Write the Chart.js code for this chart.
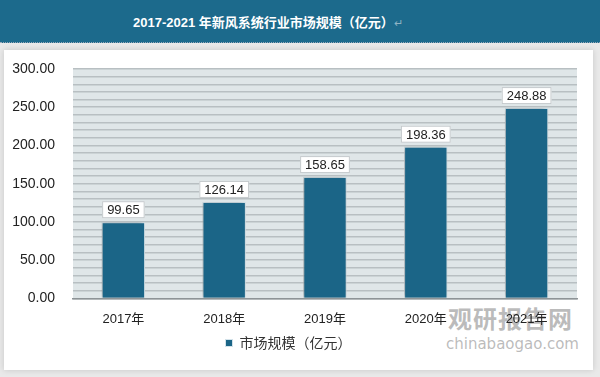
<!DOCTYPE html>
<html>
<head>
<meta charset="utf-8">
<script src="https://cdn.jsdelivr.net/npm/chart.js@4.4.0/dist/chart.umd.min.js"></script>
<style>
  body{margin:0;width:600px;height:377px;background:#e9e9e9;position:relative;overflow:hidden;font-family:"Noto Sans CJK SC","Noto Sans",sans-serif;}
  #titleBar{position:absolute;left:0;top:0;width:600px;height:42px;background:#1c6a8c;border-bottom:1px dotted #9ab;}
  #titleText{position:absolute;left:133px;top:12px;color:#fff;font-weight:bold;font-size:13px;white-space:nowrap;font-family:"Liberation Sans","Noto Sans CJK SC",sans-serif;}
  #titleText span{color:#8fb3c4;font-weight:normal;font-size:11px;}
  #panel{position:absolute;left:4px;top:50px;width:589px;height:320px;background:#fff;box-shadow:0 0 6px rgba(0,0,0,0.15);}
  #wm1{position:absolute;left:448px;top:300px;font-size:24px;font-weight:bold;color:rgba(120,120,120,0.5);letter-spacing:1px;}
  #wm2{position:absolute;left:446px;top:335px;font-size:15px;color:rgba(120,120,120,0.5);font-family:"DejaVu Sans",sans-serif;}
  canvas{position:absolute;left:0;top:0;}
</style>
</head>
<body>
<div id="titleBar"><div id="titleText">2017-2021 年新风系统行业市场规模（亿元）<span>↵</span></div></div>
<div id="panel"></div>
<div id="wm1">观研报告网</div>
<div id="wm2">chinabaogao.com</div>
<canvas id="myChart" width="600" height="377"></canvas>
<script>
'use strict';
let years=['2017年','2018年','2019年','2020年','2021年'];
let marketSize=[99.65,126.14,158.65,198.36,248.88];
let seriesName='市场规模（亿元）';

let ctx=document.getElementById('myChart').getContext('2d');

// grey plot background
let plotBg={
  id:'plotBg',
  beforeDraw(chart){
    let a=chart.chartArea;
    let c=chart.ctx;
    c.save();
    c.fillStyle='#dfe6e8';
    c.fillRect(a.left,a.top,a.right-a.left,a.bottom-a.top);
    c.restore();
  }
};

// soft shadow behind bars
let barShadow={
  id:'barShadow',
  beforeDatasetsDraw(chart){
    chart.ctx.save();
    chart.ctx.shadowColor='rgba(0,0,0,0.3)';
    chart.ctx.shadowBlur=5;
    chart.ctx.shadowOffsetX=-2;
  },
  afterDatasetsDraw(chart){
    chart.ctx.restore();
  }
};

// value boxes above bars
let valueBoxes={
  id:'valueBoxes',
  afterDatasetsDraw(chart){
    let c=chart.ctx;
    let meta=chart.getDatasetMeta(0);
    c.save();
    c.font='13px "Liberation Sans", sans-serif';
    c.textAlign='center';
    c.textBaseline='middle';
    meta.data.forEach(function(bar,i){
      let txt=marketSize[i].toFixed(2);
      let w=c.measureText(txt).width+10;
      let h=17;
      let x=bar.x-w/2;
      let y=bar.y-h-4;
      c.fillStyle='#fff';
      c.fillRect(x,y,w,h);
      c.strokeStyle='#c4c9cc';
      c.lineWidth=1;
      c.strokeRect(x+0.5,y+0.5,w-1,h-1);
      c.fillStyle='#222';
      c.fillText(txt,bar.x,y+h/2+1);
    });
    c.restore();
  }
};

new Chart(ctx,{
  type:'bar',
  data:{
    labels:years,
    datasets:[{
      label:seriesName,
      data:marketSize,
      backgroundColor:'#1b6587',
      borderColor:'#d4e3ea',
      borderWidth:1,
      barPercentage:0.43,
      categoryPercentage:1
    }]
  },
  options:{
    responsive:false,
    animation:false,
    layout:{padding:{left:0,right:23,top:69,bottom:17}},
    plugins:{
      legend:{
        position:'bottom',
        labels:{
          boxWidth:7,boxHeight:7,
          color:'#333',
          font:{size:14,family:'"Noto Sans CJK SC", sans-serif'},
          padding:4
        }
      },
      tooltip:{enabled:false}
    },
    scales:{
      x:{
        grid:{display:false},
        border:{color:'#8e9497',width:1.5},
        ticks:{color:'#222',font:{size:13,family:'"Liberation Sans","Noto Sans CJK SC",sans-serif'},padding:5}
      },
      y:{
        min:0,max:300,
        border:{display:false},
        grid:{color:'#b8bfc2',lineWidth:1.5,drawTicks:false},
        afterFit(scale){scale.width=73;},
        ticks:{
          stepSize:10,
          autoSkip:false,
          padding:18,
          color:'#222',
          font:{size:14,family:'"Liberation Sans", sans-serif'},
          callback:function(v){return v%50===0?v.toFixed(2):'';}
        }
      }
    }
  },
  plugins:[plotBg,barShadow,valueBoxes]
});
</script>
</body>
</html>
